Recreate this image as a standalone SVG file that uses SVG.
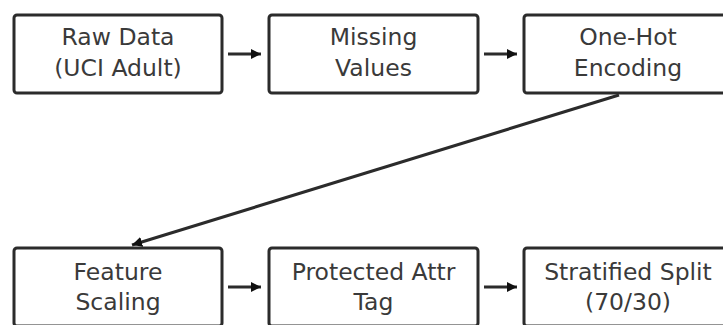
<svg xmlns="http://www.w3.org/2000/svg" width="723" height="325" viewBox="0 0 723 325">
<style>
.box{fill:#fff;stroke:#2b2b2b;stroke-width:3}
.t{font-family:"DejaVu Sans",sans-serif;font-size:23.5px;fill:#3a3a3a;text-anchor:middle}
.c{stroke:#2b2b2b;stroke-width:3;fill:none}
</style>
<defs>
<marker id="ah" viewBox="0 0 10 10" refX="10" refY="5" markerWidth="3.4" markerHeight="3.4" orient="auto" markerUnits="strokeWidth">
<path d="M0,0 L10,5 L0,10 z" fill="#111"/>
</marker>
</defs>
<rect width="723" height="325" fill="#fff"/>
<g id="raw"><rect class="box" x="14" y="15" width="208" height="78" rx="3"/><text class="t" x="118" y="45">Raw Data</text><text class="t" x="118" y="76">(UCI Adult)</text></g>
<g id="missing"><rect class="box" x="269" y="15" width="209" height="78" rx="3"/><text class="t" x="373.5" y="45">Missing</text><text class="t" x="373.5" y="76">Values</text></g>
<g id="onehot"><rect class="box" x="524" y="15" width="208" height="78" rx="3"/><text class="t" x="628" y="45">One-Hot</text><text class="t" x="628" y="76">Encoding</text></g>
<g id="scaling"><rect class="box" x="14" y="248" width="208" height="78" rx="3"/><text class="t" x="118" y="280">Feature</text><text class="t" x="118" y="310">Scaling</text></g>
<g id="protected"><rect class="box" x="269" y="248" width="209" height="78" rx="3"/><text class="t" x="373.5" y="280">Protected Attr</text><text class="t" x="373.5" y="310">Tag</text></g>
<g id="split"><rect class="box" x="524" y="248" width="208" height="78" rx="3"/><text class="t" x="628" y="280">Stratified Split</text><text class="t" x="628" y="310">(70/30)</text></g>
<g id="connectors">
<line class="c" x1="228" y1="54" x2="261" y2="54" marker-end="url(#ah)"/>
<line class="c" x1="484" y1="54" x2="517" y2="54" marker-end="url(#ah)"/>
<line class="c" x1="619" y1="95" x2="132" y2="245" marker-end="url(#ah)"/>
<line class="c" x1="228" y1="287" x2="261" y2="287" marker-end="url(#ah)"/>
<line class="c" x1="484" y1="287" x2="517" y2="287" marker-end="url(#ah)"/>
</g>
</svg>
